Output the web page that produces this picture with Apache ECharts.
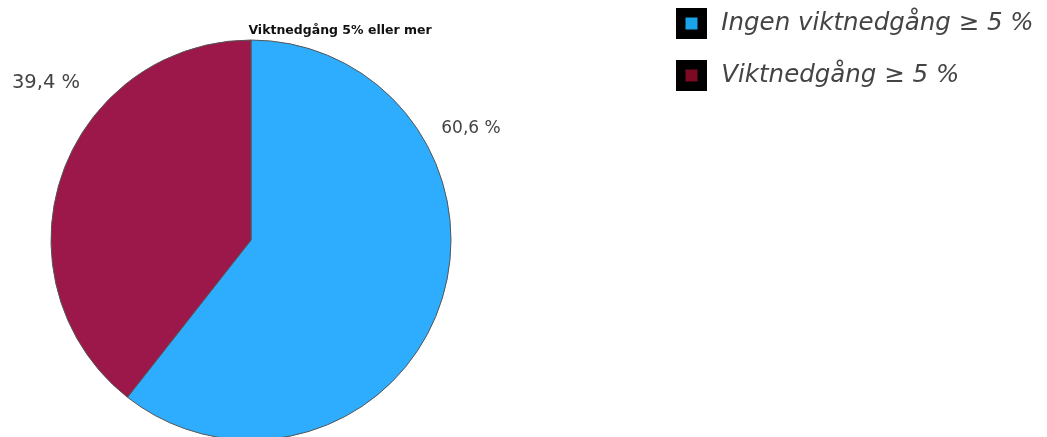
<!DOCTYPE html>
<html>
<head>
<meta charset="utf-8">
<script src="https://cdn.jsdelivr.net/npm/echarts@6/dist/echarts.min.js"></script>
<style>
html,body{margin:0;padding:0;background:#fff;}
#chart{width:1047px;height:437px;}
</style>
</head>
<body>
<div id="chart"></div>
<script>
// data
var categories = ['Ingen viktnedgång ≥ 5 %', 'Viktnedgång ≥ 5 %'];
var values = [60.6, 39.4];
var valueLabels = ['60,6 %', '39,4 %'];

var sliceColors = ['#2eadff', '#9c174a'];
var legendColors = ['#1aa3ea', '#7d0a22'];
// label positions / sizes (SPSS style, not on slice midpoint)
var labelPos = [[471, 129], [46, 83]];
var labelSize = [17, 19.5];

var chart = echarts.init(document.getElementById('chart'));

var pieData = [];
for (var i = 0; i < categories.length; i++) {
	pieData.push({
		name: categories[i],
		value: values[i],
		itemStyle: { color: sliceColors[i] },
		label: { formatter: valueLabels[i], fontSize: labelSize[i] }
	});
}

var legendData = [];
for (var j = 0; j < categories.length; j++) {
	legendData.push({
		name: categories[j],
		itemStyle: { color: legendColors[j], borderColor: '#000', borderWidth: 9.5, borderJoin: 'miter' }
	});
}

var option = {
	animation: false,
	title: {
		text: 'Viktnedgång 5% eller mer',
		left: 335,
		top: 19,
		textAlign: 'center',
		textStyle: {
			fontFamily: 'DejaVu Sans',
			fontSize: 12.5,
			fontWeight: 'bold',
			color: '#111'
		}
	},
	legend: {
		orient: 'vertical',
		left: 671,
		top: 3,
		icon: 'rect',
		itemWidth: 21.5,
		itemHeight: 21.5,
		itemGap: 21,
		selectedMode: false,
		data: legendData,
		textStyle: {
			fontFamily: 'DejaVu Sans',
			fontStyle: 'italic',
			fontSize: 24.5,
			color: '#444',
			padding: [0, 0, 0, 14]
		}
	},
	series: [{
		type: 'pie',
		center: [251, 240],
		radius: 200,
		startAngle: 90,
		clockwise: true,
		silent: true,
		avoidLabelOverlap: false,
		itemStyle: {
			borderColor: '#555',
			borderWidth: 1
		},
		label: {
			show: true,
			position: 'outside',
			fontFamily: 'DejaVu Sans',
			fontSize: 15,
			color: '#444'
		},
		labelLine: { show: false },
		labelLayout: function(params) {
			var p = labelPos[params.dataIndex];
			return { x: p[0], y: p[1], align: 'center', verticalAlign: 'middle' };
		},
		data: pieData
	}]
};
chart.setOption(option);
</script>
</body>
</html>
